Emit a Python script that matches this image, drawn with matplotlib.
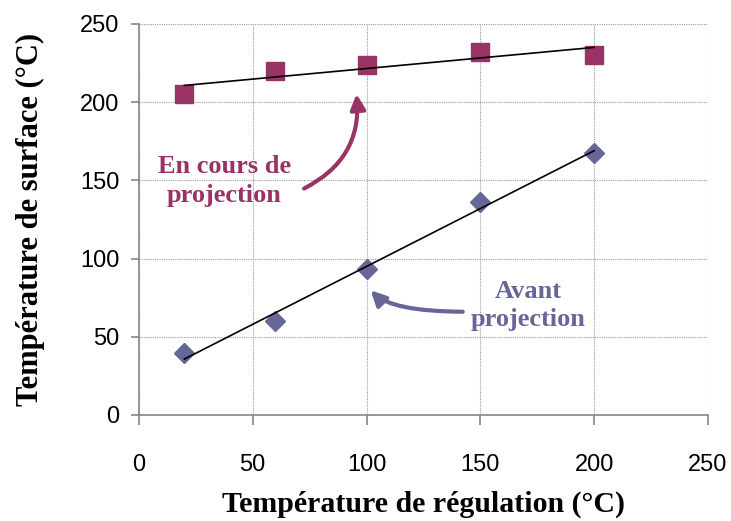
import numpy as np
import matplotlib
matplotlib.use("Agg")
import matplotlib.pyplot as plt

# temperatures (°C)
regulation = [20, 60, 100, 150, 200]
surf_projection = [205.2, 220.1, 223.8, 232.3, 230.2]
surf_avant = [39.6, 60.1, 93.2, 136.4, 167.7]
ticks = [0, 50, 100, 150, 200, 250]

plum = "#993366"
slate = "#666699"
serif = "Liberation Serif"

fig = plt.figure(figsize=(7.31, 5.21), dpi=100)
ax = fig.add_axes([0.190, 0.2035, 0.7785, 0.7505])

ax.plot(regulation, surf_projection, "s", color=plum, ms=13, zorder=3)
ax.plot(regulation, surf_avant, "D", color=slate, ms=10.5, zorder=3)

# linear trend lines
xs = np.array([regulation[0], regulation[-1]])
for ys in (surf_projection, surf_avant):
    p = np.polyfit(regulation, ys, 1)
    ax.plot(xs, np.polyval(p, xs), color="black", lw=1.2, zorder=4)

ax.set_xlim(0, 250)
ax.set_ylim(0, 250)
ax.set_xticks(ticks)
ax.set_yticks(ticks)
ax.grid(True, color="#9a9a9a", ls=(0, (1, 1)), lw=0.8)
ax.set_axisbelow(True)
for s in ("top", "right"):
    ax.spines[s].set_visible(False)
for s in ("left", "bottom"):
    ax.spines[s].set_color("#868686")
    ax.spines[s].set_linewidth(1.2)
ax.tick_params(axis="x", length=7, width=1.2, color="#868686", pad=21,
               labelsize=17)
ax.tick_params(axis="y", length=6, width=1.2, color="#868686", pad=8,
               labelsize=17)
for lab in ax.get_xticklabels() + ax.get_yticklabels():
    lab.set_family("Liberation Sans")

ax.set_xlabel("Température de régulation (°C)", family=serif,
              fontweight="bold", fontsize=21.5, labelpad=11)
ax.set_ylabel("Température de surface (°C)", family=serif,
              fontweight="bold", fontsize=22, labelpad=25)

ax.text(37.5, 149.5, "En cours de\nprojection", color=plum, family=serif,
        fontweight="bold", fontsize=19, ha="center", va="center",
        linespacing=1.32)
ax.annotate("", xy=(95.5, 207), xytext=(71.5, 144),
            arrowprops=dict(arrowstyle="-|>,head_length=0.9,head_width=0.45",
                            color=plum, lw=3,
                            connectionstyle="arc3,rad=0.35"))

ax.text(171, 70, "Avant\nprojection", color=slate, family=serif,
        fontweight="bold", fontsize=19, ha="center", va="center",
        linespacing=1.32)
ax.annotate("", xy=(101, 81), xytext=(143.5, 66),
            arrowprops=dict(arrowstyle="-|>,head_length=0.9,head_width=0.45",
                            color=slate, lw=3,
                            connectionstyle="angle3,angleA=0,angleB=130"))

fig.savefig("out.png", dpi=100)
